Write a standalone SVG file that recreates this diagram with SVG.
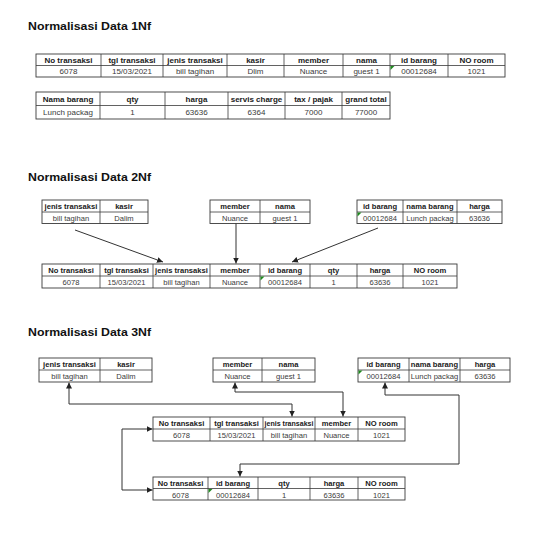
<svg xmlns="http://www.w3.org/2000/svg" width="543" height="536" viewBox="0 0 543 536">
<defs>
<style>
.title{font-family:"Liberation Sans",Arial,sans-serif;font-weight:bold;font-size:11px;fill:#111}
.h{font-family:"Liberation Sans",Arial,sans-serif;font-weight:bold;font-size:8px;fill:#1a1a1a;text-anchor:middle}
.d{font-family:"Liberation Sans",Arial,sans-serif;font-size:8px;fill:#3a3a3a;text-anchor:middle}
.s .h,.s .d{font-size:7.6px}
.box{fill:#fff;stroke:#3a3a3a;stroke-width:0.9}
.ln{stroke:#3a3a3a;stroke-width:0.8;fill:none}
.con{stroke:#333;stroke-width:1;fill:none}
.tri{fill:#1f8a1f}
</style>
<marker id="ah" viewBox="0 0 6 6" refX="6" refY="3" markerWidth="6" markerHeight="6" markerUnits="userSpaceOnUse" orient="auto-start-reverse">
<path d="M0,0 L6,3 L0,6 z" fill="#222"/>
</marker>
</defs>
<rect width="543" height="536" fill="#fff"/>

<text class="title" x="28" y="29.5" textLength="123" lengthAdjust="spacingAndGlyphs">Normalisasi Data 1Nf</text>
<text class="title" x="28" y="180.5" textLength="123" lengthAdjust="spacingAndGlyphs">Normalisasi Data 2Nf</text>
<text class="title" x="28" y="335.5" textLength="123" lengthAdjust="spacingAndGlyphs">Normalisasi Data 3Nf</text>

<!-- 1Nf table A -->
<g id="nf1-transaksi">
<rect class="box" x="36" y="54" width="469" height="23"/>
<path class="ln" d="M36,65.5H505M101,54V77M163,54V77M227,54V77M284,54V77M343,54V77M390,54V77M448,54V77"/>
<text class="h" x="68.5" y="62.5">No transaksi</text>
<text class="h" x="132" y="62.5">tgl transaksi</text>
<text class="h" x="195" y="62.5">jenis transaksi</text>
<text class="h" x="255.5" y="62.5">kasir</text>
<text class="h" x="313.5" y="62.5">member</text>
<text class="h" x="366.5" y="62.5">nama</text>
<text class="h" x="419" y="62.5">id barang</text>
<text class="h" x="476.5" y="62.5">NO room</text>
<text class="d" x="68.5" y="74">6078</text>
<text class="d" x="132" y="74">15/03/2021</text>
<text class="d" x="195" y="74">bill tagihan</text>
<text class="d" x="255.5" y="74">Dlim</text>
<text class="d" x="313.5" y="74">Nuance</text>
<text class="d" x="366.5" y="74">guest 1</text>
<text class="d" x="419" y="74">00012684</text>
<text class="d" x="476.5" y="74">1021</text>
<path class="tri" d="M390.5,66H394.5L390.5,70z"/>
</g>

<!-- 1Nf table B -->
<g id="nf1-barang">
<rect class="box" x="36" y="92" width="354" height="27"/>
<path class="ln" d="M36,105.5H390M100,92V119M165,92V119M228,92V119M285,92V119M342,92V119"/>
<text class="h" x="68" y="101.5">Nama barang</text>
<text class="h" x="132.5" y="101.5">qty</text>
<text class="h" x="196.5" y="101.5">harga</text>
<text class="h" x="256.5" y="101.5">servis charge</text>
<text class="h" x="313.5" y="101.5">tax / pajak</text>
<text class="h" x="366" y="101.5">grand total</text>
<text class="d" x="68" y="115">Lunch packag</text>
<text class="d" x="132.5" y="115">1</text>
<text class="d" x="196.5" y="115">63636</text>
<text class="d" x="256.5" y="115">6364</text>
<text class="d" x="313.5" y="115">7000</text>
<text class="d" x="366" y="115">77000</text>
</g>

<!-- 2Nf tables -->
<g id="nf2-jenis" class="s">
<rect class="box" x="42" y="200" width="106" height="23.5"/>
<path class="ln" d="M42,212H148M100,200V223.5"/>
<text class="h" x="71" y="209">jenis transaksi</text>
<text class="h" x="124" y="209">kasir</text>
<text class="d" x="71" y="220.5">bill tagihan</text>
<text class="d" x="124" y="220.5">Dalim</text>
</g>
<g id="nf2-member" class="s">
<rect class="box" x="210" y="200" width="100" height="23.5"/>
<path class="ln" d="M210,212H310M260,200V223.5"/>
<text class="h" x="235" y="209">member</text>
<text class="h" x="285" y="209">nama</text>
<text class="d" x="235" y="220.5">Nuance</text>
<text class="d" x="285" y="220.5">guest 1</text>
</g>
<g id="nf2-barang" class="s">
<rect class="box" x="357" y="200" width="145" height="23.5"/>
<path class="ln" d="M357,212H502M403,200V223.5M457,200V223.5"/>
<text class="h" x="380" y="209">id barang</text>
<text class="h" x="430" y="209">nama barang</text>
<text class="h" x="479.5" y="209">harga</text>
<text class="d" x="380" y="220.5">00012684</text>
<text class="d" x="430" y="220.5">Lunch packag</text>
<text class="d" x="479.5" y="220.5">63636</text>
<path class="tri" d="M357.5,212.5H361.5L357.5,216.5z"/>
</g>
<g id="nf2-transaksi" class="s">
<rect class="box" x="42" y="264" width="415" height="24"/>
<path class="ln" d="M42,276H457M100,264V288M153,264V288M210,264V288M260,264V288M310,264V288M357,264V288M403,264V288"/>
<text class="h" x="71" y="273">No transaksi</text>
<text class="h" x="126.5" y="273">tgl transaksi</text>
<text class="h" x="181.5" y="273">jenis transaksi</text>
<text class="h" x="235" y="273">member</text>
<text class="h" x="285" y="273">id barang</text>
<text class="h" x="333.5" y="273">qty</text>
<text class="h" x="380" y="273">harga</text>
<text class="h" x="430" y="273">NO room</text>
<text class="d" x="71" y="285">6078</text>
<text class="d" x="126.5" y="285">15/03/2021</text>
<text class="d" x="181.5" y="285">bill tagihan</text>
<text class="d" x="235" y="285">Nuance</text>
<text class="d" x="285" y="285">00012684</text>
<text class="d" x="333.5" y="285">1</text>
<text class="d" x="380" y="285">63636</text>
<text class="d" x="430" y="285">1021</text>
<path class="tri" d="M260.5,276.5H264.5L260.5,280.5z"/>
</g>

<!-- 3Nf tables -->
<g id="nf3-jenis" class="s">
<rect class="box" x="39" y="358" width="113" height="24"/>
<path class="ln" d="M39,370H152M100,358V382"/>
<text class="h" x="69.5" y="367">jenis transaksi</text>
<text class="h" x="126" y="367">kasir</text>
<text class="d" x="69.5" y="379">bill tagihan</text>
<text class="d" x="126" y="379">Dalim</text>
</g>
<g id="nf3-member" class="s">
<rect class="box" x="213" y="358" width="102" height="24"/>
<path class="ln" d="M213,370H315M262,358V382"/>
<text class="h" x="237.5" y="367">member</text>
<text class="h" x="288.5" y="367">nama</text>
<text class="d" x="237.5" y="379">Nuance</text>
<text class="d" x="288.5" y="379">guest 1</text>
</g>
<g id="nf3-barang" class="s">
<rect class="box" x="358" y="358" width="152" height="24"/>
<path class="ln" d="M358,370H510M409,358V382M460,358V382"/>
<text class="h" x="383.5" y="367">id barang</text>
<text class="h" x="434.5" y="367">nama barang</text>
<text class="h" x="485" y="367">harga</text>
<text class="d" x="383.5" y="379">00012684</text>
<text class="d" x="434.5" y="379">Lunch packag</text>
<text class="d" x="485" y="379">63636</text>
<path class="tri" d="M358.5,370.5H362.5L358.5,374.5z"/>
</g>
<g id="nf3-transaksi" class="s">
<rect class="box" x="153" y="417" width="252" height="24"/>
<path class="ln" d="M153,429H405M210,417V441M263,417V441M315,417V441M358,417V441"/>
<text class="h" x="181.5" y="426">No transaksi</text>
<text class="h" x="236.5" y="426">tgl transaksi</text>
<text class="h" x="289" y="426" textLength="49" lengthAdjust="spacingAndGlyphs">jenis transaksi</text>
<text class="h" x="336.5" y="426">member</text>
<text class="h" x="381.5" y="426">NO room</text>
<text class="d" x="181.5" y="438">6078</text>
<text class="d" x="236.5" y="438">15/03/2021</text>
<text class="d" x="289" y="438">bill tagihan</text>
<text class="d" x="336.5" y="438">Nuance</text>
<text class="d" x="381.5" y="438">1021</text>
</g>
<g id="nf3-detail" class="s">
<rect class="box" x="153" y="477" width="252" height="23"/>
<path class="ln" d="M153,488.5H405M208,477V500M258,477V500M310,477V500M358,477V500"/>
<text class="h" x="180.5" y="486">No transaksi</text>
<text class="h" x="233" y="486">id barang</text>
<text class="h" x="284" y="486">qty</text>
<text class="h" x="334" y="486">harga</text>
<text class="h" x="381.5" y="486">NO room</text>
<text class="d" x="180.5" y="497.5">6078</text>
<text class="d" x="233" y="497.5">00012684</text>
<text class="d" x="284" y="497.5">1</text>
<text class="d" x="334" y="497.5">63636</text>
<text class="d" x="381.5" y="497.5">1021</text>
<path class="tri" d="M208.5,489H212.5L208.5,493z"/>
</g>

<!-- connectors -->
<g id="connectors">
<path class="con" d="M75,230L163,262" marker-end="url(#ah)"/>
<path class="con" d="M236,223.5V263.5" marker-end="url(#ah)"/>
<path class="con" d="M378,228L292,262" marker-end="url(#ah)"/>
<path class="con" d="M69,382.5V404H292V416.5" marker-start="url(#ah)" marker-end="url(#ah)"/>
<path class="con" d="M235,382.5V392H343V416.5" marker-start="url(#ah)" marker-end="url(#ah)"/>
<path class="con" d="M385,382.5V395H459V464H240V476.5" marker-start="url(#ah)" marker-end="url(#ah)"/>
<path class="con" d="M152.5,429H122V490H152.5" marker-start="url(#ah)" marker-end="url(#ah)"/>
</g>
</svg>
